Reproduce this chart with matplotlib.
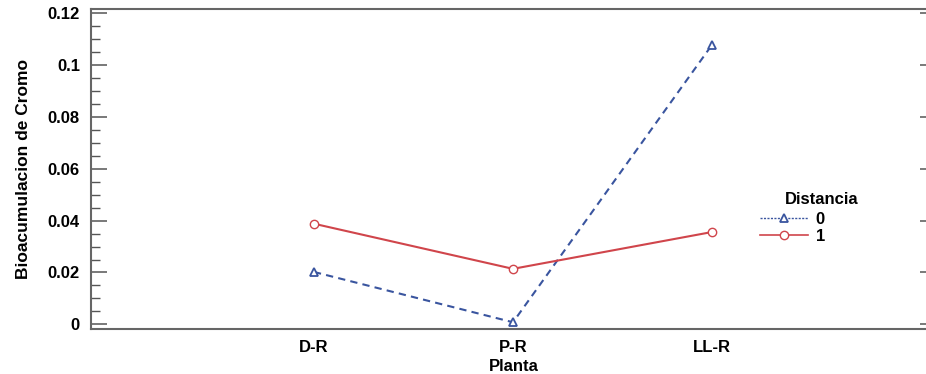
import matplotlib
matplotlib.use("Agg")
import matplotlib.pyplot as plt
from matplotlib.ticker import MultipleLocator
from matplotlib.lines import Line2D

plt.rcParams['font.family'] = ['Liberation Sans', 'DejaVu Sans']
plt.rcParams['font.weight'] = 'bold'

categories = ["D-R", "P-R", "LL-R"]
dist0 = [0.0202, 0.0008, 0.1078]
dist1 = [0.0388, 0.0214, 0.0356]
yticks = [0, 0.02, 0.04, 0.06, 0.08, 0.1, 0.12]
ytick_labels = ["0", "0.02", "0.04", "0.06", "0.08", "0.1", "0.12"]
legend_labels = ["0", "1"]

W, H = 926, 374
fig = plt.figure(figsize=(W / 100, H / 100), dpi=100)
ax = fig.add_axes([91 / W, 45 / H, (936 - 91) / W, 320 / H])

x = list(range(len(categories)))
blue = '#3a559f'
red = '#d0454b'
ax.plot(x, dist0, color=blue, linestyle=(0, (3.5, 2.5)), linewidth=1.5, marker='^',
        markersize=6, markerfacecolor='white', markeredgecolor=blue, markeredgewidth=1.3)
ax.plot(x, dist1, color=red, linestyle='-', linewidth=1.5, marker='o',
        markersize=6, markerfacecolor='white', markeredgecolor=red, markeredgewidth=1.0)

ax.set_xlim(-1.12, 3.125)
ax.set_ylim(-0.0018, 0.1216)
ax.set_xticks(x)
ax.set_xticklabels(categories, fontsize=12, fontweight='bold')
ax.tick_params(axis='x', length=0, pad=8)
ax.set_yticks(yticks)
ax.set_yticklabels(ytick_labels, fontsize=12, fontweight='bold')
ax.yaxis.set_minor_locator(MultipleLocator(0.005))
ax.tick_params(axis='y', which='major', direction='in', length=11.5, width=1.1,
               color='#555555', right=True, pad=8)
ax.tick_params(axis='y', which='minor', direction='in', length=6.5, width=1.0,
               color='#555555', right=True)
for s in ax.spines.values():
    s.set_color('#666666')
    s.set_linewidth(1.5)

ax.set_xlabel('Planta', fontsize=12, fontweight='bold', labelpad=3)
ax.set_ylabel('Bioacumulacion de Cromo', fontsize=12.5, fontweight='bold', labelpad=12)

handles = [
    Line2D([], [], color=blue, linestyle=(0, (1.5, 1)), linewidth=1.0, marker='^',
           markersize=6, markerfacecolor='white', markeredgecolor=blue, markeredgewidth=1.3),
    Line2D([], [], color=red, linestyle='-', linewidth=1.2, marker='o',
           markersize=6, markerfacecolor='white', markeredgecolor=red, markeredgewidth=1.0),
]
leg = ax.legend(handles, legend_labels, loc='upper left',
                bbox_to_anchor=(760 / W, 1 - 212 / H),
                bbox_transform=fig.transFigure, frameon=False, fontsize=12,
                handlelength=2.9, handletextpad=0.45, labelspacing=0.1,
                borderpad=0, borderaxespad=0)
for t in leg.get_texts():
    t.set_fontweight('bold')
fig.text(785 / W, 1 - 200 / H, 'Distancia', fontsize=12, fontweight='bold',
         ha='left', va='center')

fig.savefig('out.png', dpi=100)
